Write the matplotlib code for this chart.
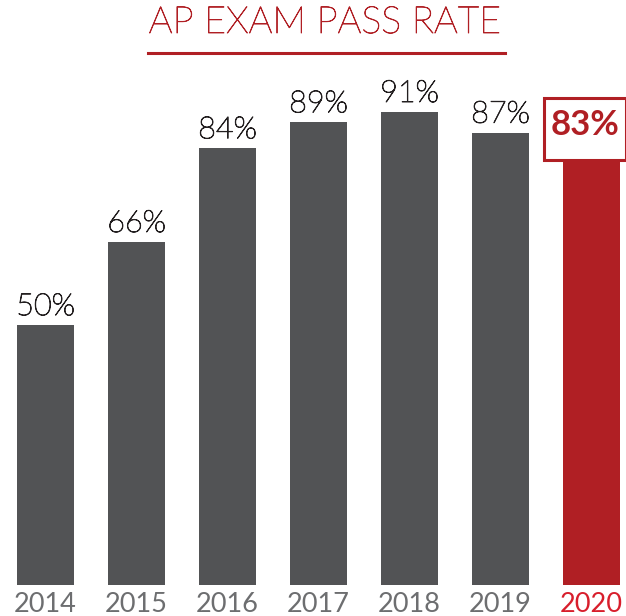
import matplotlib.pyplot as plt
import matplotlib.patheffects as pe
from matplotlib.patches import Rectangle

years = ['2014', '2015', '2016', '2017', '2018', '2019', '2020']
pass_rate = [50, 66, 84, 89, 91, 87, 83]

GRAY = '#525355'
RED = '#b01f24'
YEAR_GRAY = '#6d6e70'
YEAR_RED = '#d81e2c'
LABEL = '#231f20'

fig = plt.figure(figsize=(6.26, 6.16), dpi=100)
W, H = 626, 616
PX = 5.2  # pixels per percent

# axes: bars sit on pixel row 585, top of axes at pixel row 60
ax = fig.add_axes([0, (H - 585) / H, 1, (585 - 60) / H])
ax.set_xlim(-0.5, (W - 45.5) / 91)
ax.set_ylim(0, (585 - 60) / PX)
ax.axis('off')

x = list(range(len(years)))
colors = [GRAY] * (len(years) - 1) + [RED]
ax.bar(x, pass_rate, width=0.63, color=colors, linewidth=0)

# Lato light is a bit too thin here, thicken it slightly
thick_dark = [pe.withStroke(linewidth=0.7, foreground=LABEL)]
thick_red = [pe.withStroke(linewidth=0.6, foreground=RED)]

last = len(years) - 1
for i, v in enumerate(pass_rate):
    if i < last:
        ax.text(i, v + 1.9, f'{v}%', ha='center', va='baseline',
                fontsize=22, family='Lato', weight='light', color=LABEL,
                path_effects=thick_dark)
    else:
        # highlighted label in a white box
        ax.add_patch(Rectangle((i - 0.52, v - 1.3), 0.9, 12, facecolor='white',
                               edgecolor=RED, linewidth=2.2, zorder=3,
                               clip_on=False))
        ax.text(i - 0.07, v + 5.5, f'{v}%', ha='center', va='center',
                fontsize=25, family='Lato', weight='bold', color=RED, zorder=4)

for i, yr in enumerate(years):
    ax.text(i, -27 / PX, yr, ha='center', va='baseline', fontsize=19.5,
            family='Lato', color=YEAR_RED if i == last else YEAR_GRAY,
            clip_on=False)

# title with underline
fig.text(325 / W, 1 - 33 / H, 'AP EXAM PASS RATE', ha='center', va='baseline',
         fontsize=27, family='Lato', weight='light', color=RED,
         path_effects=thick_red)
fig.add_artist(plt.Line2D([148 / W, 505 / W], [1 - 53 / H, 1 - 53 / H],
                          color=RED, linewidth=2.2))

fig.savefig('out.png', dpi=100)
